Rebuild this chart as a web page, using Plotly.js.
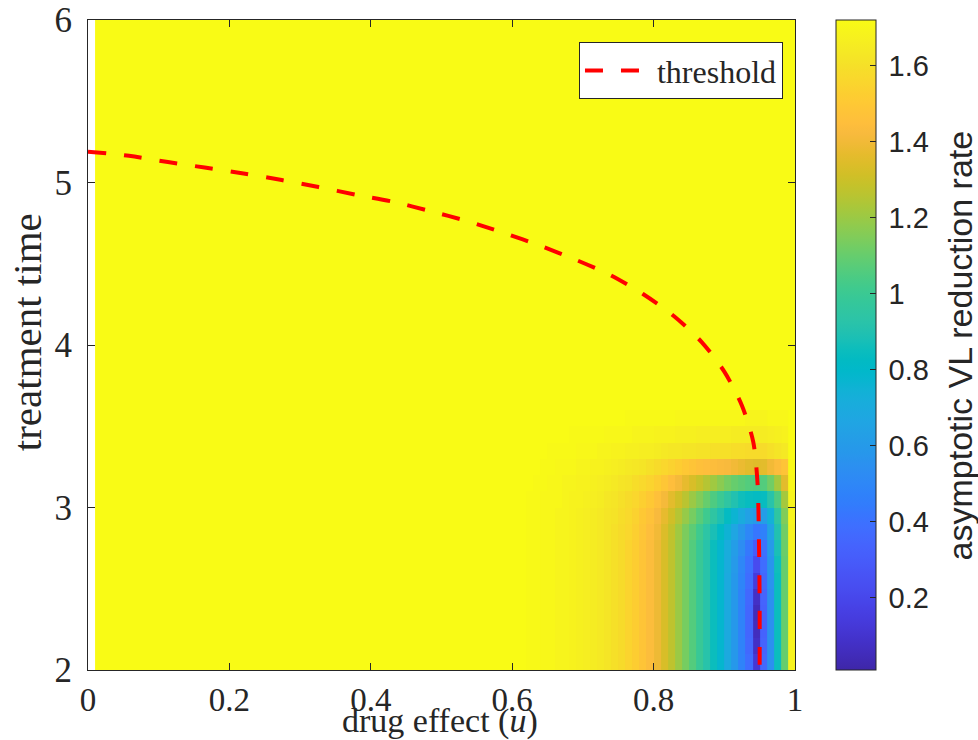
<!DOCTYPE html>
<html>
<head>
<meta charset="utf-8">
<script src="https://cdn.plot.ly/plotly-3.0.1.min.js"></script>
<style>html,body{margin:0;padding:0;background:#fff;}#chart{width:978px;height:740px;}</style>
</head>
<body>
<div id="chart"></div>
<script>
// cell edges of the drug-effect grid (u) and treatment-time grid (T)
const uEdges = [0.01,0.60,0.61,0.62,0.63,0.64,0.65,0.66,0.67,0.68,0.69,0.70,0.71,0.72,0.73,0.74,0.75,0.76,0.77,0.78,0.79,0.80,0.81,0.82,0.83,0.84,0.85,0.86,0.87,0.88,0.89,0.90,0.91,0.92,0.93,0.94,0.95,0.96,0.97,0.98,0.99,1.00];
const tEdges = [2.0,2.1,2.2,2.3,2.4,2.5,2.6,2.7,2.8,2.9,3.0,3.1,3.2,3.3,3.4,3.5,3.6,6.0];

// asymptotic VL reduction rate, one row per treatment-time band (bottom to top)
const rate_T20 = [1.72,1.72,1.72,1.71,1.71,1.70,1.70,1.69,1.69,1.68,1.67,1.66,1.65,1.64,1.62,1.60,1.58,1.55,1.52,1.48,1.44,1.39,1.33,1.27,1.20,1.13,1.06,0.99,0.92,0.85,0.78,0.69,0.59,0.48,0.38,0.12,0.36,0.55,0.85,1.10,1.68];
const rate_T21 = [1.72,1.72,1.72,1.71,1.71,1.70,1.70,1.69,1.69,1.68,1.67,1.66,1.65,1.64,1.62,1.60,1.58,1.55,1.52,1.48,1.44,1.39,1.33,1.27,1.20,1.13,1.06,0.99,0.92,0.85,0.78,0.69,0.59,0.48,0.36,0.08,0.34,0.55,0.85,1.10,1.68];
const rate_T22 = [1.72,1.72,1.72,1.71,1.71,1.70,1.70,1.69,1.69,1.68,1.67,1.66,1.65,1.64,1.62,1.60,1.58,1.55,1.52,1.48,1.44,1.39,1.33,1.27,1.20,1.13,1.06,0.99,0.92,0.85,0.78,0.69,0.59,0.48,0.35,0.06,0.33,0.55,0.85,1.10,1.68];
const rate_T23 = [1.72,1.72,1.72,1.71,1.71,1.70,1.70,1.69,1.69,1.68,1.67,1.66,1.65,1.64,1.62,1.60,1.58,1.55,1.52,1.48,1.44,1.39,1.33,1.27,1.20,1.13,1.06,0.99,0.92,0.85,0.78,0.69,0.59,0.48,0.35,0.05,0.33,0.55,0.85,1.10,1.68];
const rate_T24 = [1.72,1.72,1.72,1.71,1.71,1.70,1.70,1.69,1.69,1.68,1.67,1.66,1.65,1.64,1.62,1.60,1.58,1.55,1.52,1.48,1.44,1.39,1.33,1.27,1.20,1.13,1.06,0.99,0.92,0.85,0.78,0.69,0.59,0.48,0.36,0.08,0.34,0.55,0.85,1.10,1.68];
const rate_T25 = [1.72,1.72,1.72,1.71,1.71,1.70,1.70,1.69,1.69,1.68,1.67,1.66,1.65,1.64,1.62,1.60,1.58,1.55,1.52,1.48,1.44,1.39,1.33,1.27,1.20,1.13,1.06,0.99,0.92,0.85,0.78,0.69,0.59,0.49,0.38,0.14,0.36,0.56,0.85,1.10,1.68];
const rate_T26 = [1.72,1.72,1.72,1.71,1.71,1.70,1.70,1.69,1.69,1.68,1.67,1.66,1.65,1.64,1.62,1.60,1.58,1.55,1.52,1.48,1.44,1.39,1.33,1.27,1.20,1.13,1.06,0.99,0.92,0.85,0.78,0.70,0.60,0.50,0.40,0.22,0.38,0.57,0.86,1.10,1.68];
const rate_T27 = [1.72,1.72,1.72,1.71,1.71,1.70,1.70,1.69,1.69,1.68,1.67,1.66,1.65,1.64,1.62,1.60,1.58,1.55,1.52,1.48,1.44,1.39,1.33,1.27,1.20,1.13,1.06,0.99,0.92,0.85,0.78,0.71,0.62,0.53,0.43,0.30,0.40,0.60,0.88,1.11,1.68];
const rate_T28 = [1.72,1.72,1.72,1.71,1.71,1.70,1.70,1.69,1.69,1.68,1.67,1.66,1.65,1.64,1.62,1.60,1.58,1.56,1.53,1.49,1.45,1.40,1.34,1.28,1.21,1.14,1.08,1.01,0.94,0.88,0.82,0.75,0.67,0.58,0.50,0.42,0.47,0.65,0.90,1.12,1.68];
const rate_T29 = [1.72,1.72,1.72,1.71,1.71,1.70,1.70,1.69,1.69,1.68,1.67,1.66,1.65,1.64,1.62,1.61,1.59,1.57,1.54,1.50,1.47,1.42,1.37,1.31,1.25,1.19,1.13,1.07,1.01,0.95,0.89,0.83,0.76,0.70,0.64,0.60,0.62,0.74,0.95,1.15,1.69];
const rate_T30 = [1.72,1.72,1.72,1.71,1.71,1.70,1.70,1.70,1.69,1.68,1.68,1.67,1.66,1.65,1.63,1.62,1.60,1.58,1.56,1.53,1.50,1.46,1.41,1.36,1.31,1.26,1.20,1.15,1.10,1.05,1.00,0.95,0.90,0.86,0.84,0.83,0.84,0.92,1.05,1.22,1.69];
const rate_T31 = [1.72,1.72,1.72,1.72,1.71,1.71,1.70,1.70,1.69,1.69,1.68,1.68,1.67,1.66,1.65,1.64,1.62,1.61,1.59,1.57,1.55,1.52,1.49,1.45,1.41,1.37,1.33,1.29,1.25,1.21,1.17,1.13,1.10,1.08,1.06,1.05,1.06,1.12,1.22,1.36,1.70];
const rate_T32 = [1.72,1.72,1.72,1.72,1.72,1.71,1.71,1.70,1.70,1.70,1.69,1.69,1.68,1.68,1.67,1.66,1.65,1.64,1.63,1.62,1.60,1.58,1.56,1.54,1.52,1.50,1.48,1.46,1.45,1.44,1.43,1.42,1.40,1.38,1.36,1.35,1.36,1.40,1.44,1.48,1.71];
const rate_T33 = [1.72,1.72,1.72,1.72,1.72,1.72,1.71,1.71,1.71,1.71,1.70,1.70,1.70,1.69,1.69,1.68,1.68,1.67,1.67,1.66,1.66,1.65,1.64,1.63,1.63,1.62,1.62,1.61,1.61,1.60,1.60,1.60,1.59,1.59,1.58,1.58,1.58,1.60,1.62,1.64,1.72];
const rate_T34 = [1.72,1.72,1.72,1.72,1.72,1.72,1.72,1.72,1.72,1.71,1.71,1.71,1.71,1.71,1.70,1.70,1.70,1.70,1.69,1.69,1.69,1.68,1.68,1.68,1.67,1.67,1.67,1.66,1.66,1.66,1.66,1.66,1.65,1.65,1.65,1.65,1.65,1.66,1.67,1.68,1.72];
const rate_T35 = [1.72,1.72,1.72,1.72,1.72,1.72,1.72,1.72,1.72,1.72,1.72,1.72,1.72,1.72,1.72,1.72,1.72,1.71,1.71,1.71,1.71,1.71,1.71,1.71,1.70,1.70,1.70,1.70,1.70,1.70,1.70,1.70,1.70,1.70,1.69,1.69,1.69,1.70,1.70,1.70,1.72];
const rate_T36 = [1.72,1.72,1.72,1.72,1.72,1.72,1.72,1.72,1.72,1.72,1.72,1.72,1.72,1.72,1.72,1.72,1.72,1.72,1.72,1.72,1.72,1.72,1.72,1.72,1.72,1.72,1.72,1.72,1.72,1.72,1.72,1.72,1.72,1.72,1.72,1.72,1.72,1.72,1.72,1.72,1.72];

// threshold curve
const thrU = [0,0.058,0.113,0.165,0.220,0.274,0.326,0.379,0.433,0.483,0.536,0.588,0.640,0.689,0.739,0.785,0.829,0.868,0.900,0.925,0.941,0.947,0.949,0.95,0.95];
const thrT = [5.19,5.164,5.126,5.092,5.056,5.015,4.972,4.925,4.88,4.825,4.763,4.69,4.61,4.526,4.43,4.314,4.177,4.018,3.836,3.626,3.402,3.15,2.80,2.40,2.00];

// ticks
const cbTicks = [0.2,0.4,0.6,0.8,1,1.2,1.4,1.6];
const xTicks = [0,0.2,0.4,0.6,0.8,1];
const yTicks = [2,3,4,5,6];

const zRows = [rate_T20,rate_T21,rate_T22,rate_T23,rate_T24,rate_T25,rate_T26,rate_T27,rate_T28,rate_T29,rate_T30,rate_T31,rate_T32,rate_T33,rate_T34,rate_T35,rate_T36];

const parula = [[0.2422,0.1504,0.6603],[0.2504,0.1650,0.7076],[0.2578,0.1818,0.7511],[0.2647,0.1978,0.7952],[0.2706,0.2147,0.8364],[0.2751,0.2342,0.8710],[0.2783,0.2559,0.8991],[0.2803,0.2782,0.9221],[0.2813,0.3006,0.9414],[0.2810,0.3228,0.9579],[0.2795,0.3447,0.9717],[0.2760,0.3667,0.9829],[0.2699,0.3892,0.9906],[0.2602,0.4123,0.9952],[0.2440,0.4358,0.9988],[0.2206,0.4603,0.9973],[0.1963,0.4847,0.9892],[0.1834,0.5074,0.9798],[0.1786,0.5289,0.9682],[0.1764,0.5499,0.9520],[0.1687,0.5703,0.9359],[0.1540,0.5902,0.9218],[0.1460,0.6091,0.9079],[0.1380,0.6276,0.8973],[0.1248,0.6459,0.8883],[0.1113,0.6635,0.8763],[0.0952,0.6798,0.8598],[0.0689,0.6948,0.8394],[0.0297,0.7082,0.8163],[0.0036,0.7203,0.7917],[0.0067,0.7312,0.7660],[0.0433,0.7411,0.7394],[0.0964,0.7500,0.7120],[0.1408,0.7584,0.6842],[0.1717,0.7670,0.6554],[0.1938,0.7758,0.6251],[0.2161,0.7843,0.5923],[0.2470,0.7918,0.5567],[0.2906,0.7973,0.5188],[0.3406,0.8008,0.4789],[0.3909,0.8029,0.4354],[0.4456,0.8024,0.3909],[0.5044,0.7993,0.3480],[0.5616,0.7942,0.3045],[0.6174,0.7876,0.2612],[0.6720,0.7793,0.2227],[0.7242,0.7698,0.1910],[0.7738,0.7598,0.1646],[0.8203,0.7498,0.1535],[0.8634,0.7406,0.1596],[0.9035,0.7330,0.1774],[0.9393,0.7288,0.2100],[0.9728,0.7298,0.2394],[0.9956,0.7434,0.2371],[0.9970,0.7659,0.2199],[0.9952,0.7893,0.2028],[0.9892,0.8136,0.1885],[0.9786,0.8386,0.1766],[0.9676,0.8639,0.1643],[0.9610,0.8890,0.1537],[0.9597,0.9135,0.1423],[0.9628,0.9373,0.1265],[0.9691,0.9606,0.1064],[0.9769,0.9839,0.0805]];
const colorscale = parula.map((c, i) => [i / (parula.length - 1), 'rgb(' + c.map(v => Math.round(v * 255)).join(',') + ')']);

const axisColor = '#262626';
const serif = 'Liberation Serif, DejaVu Serif, serif';
const sans = 'Liberation Sans, Arial, sans-serif';

const traces = [
  {
    type: 'heatmap',
    x: uEdges, y: tEdges, z: zRows,
    colorscale: colorscale, zmin: 0.01, zmax: 1.72, zsmooth: false,
    showlegend: false, hoverinfo: 'skip',
    colorbar: {
      x: 1.058, xanchor: 'left', xpad: 0, xref: 'paper',
      y: 0, yanchor: 'bottom', ypad: 0, len: 1, lenmode: 'fraction',
      thickness: 40, thicknessmode: 'pixels',
      outlinewidth: 1, outlinecolor: axisColor,
      ticks: 'inside', ticklen: 6, tickcolor: axisColor, tickwidth: 1,
      tickvals: cbTicks, ticktext: cbTicks.map(v => '\u2009' + v),
      tickfont: {family: sans, size: 29, color: axisColor}
    }
  },
  {
    type: 'scatter', mode: 'lines', name: 'threshold',
    x: thrU, y: thrT,
    line: {color: '#ff0000', width: 4, dash: '18px,18px', shape: 'spline', smoothing: 0.8},
    hoverinfo: 'skip'
  }
];

const layout = {
  width: 978, height: 740,
  margin: {l: 88, r: 183, t: 20, b: 70, pad: 0},
  paper_bgcolor: '#ffffff', plot_bgcolor: '#ffffff',
  xaxis: {
    range: [0, 1], tickvals: xTicks, ticktext: xTicks.map(String),
    ticks: 'inside', ticklen: 7, tickcolor: axisColor, tickwidth: 1,
    showline: true, linecolor: axisColor, linewidth: 1, mirror: 'ticks',
    showgrid: false, zeroline: false, ticklabelstandoff: 0,
    tickfont: {family: serif, size: 33, color: axisColor}
  },
  yaxis: {
    range: [2, 6], tickvals: yTicks, ticktext: yTicks.map(String),
    ticks: 'inside', ticklen: 7, tickcolor: axisColor, tickwidth: 1,
    showline: true, linecolor: axisColor, linewidth: 1, mirror: 'ticks',
    showgrid: false, zeroline: false, ticklabelstandoff: 8,
    tickfont: {family: serif, size: 35, color: axisColor}
  },
  annotations: [
    {text: 'drug effect (<i>u</i>)', xref: 'paper', yref: 'paper', x: 0.498, y: -0.0785, xanchor: 'center', yanchor: 'middle',
     showarrow: false, font: {family: serif, size: 34, color: axisColor}},
    {text: 'treatment time', xref: 'paper', yref: 'paper', x: -0.086, y: 0.52, xanchor: 'center', yanchor: 'middle',
     textangle: -90, showarrow: false, font: {family: serif, size: 41, color: axisColor}},
    {text: 'asymptotic VL reduction rate', xref: 'paper', yref: 'paper', x: 1.234, y: 0.5, xanchor: 'center', yanchor: 'middle',
     textangle: -90, showarrow: false, font: {family: sans, size: 34, color: axisColor}}
  ],
  legend: {
    x: 0.983, xanchor: 'right', y: 0.966, yanchor: 'top',
    bgcolor: '#ffffff', bordercolor: axisColor, borderwidth: 1, itemwidth: 67,
    font: {family: serif, size: 32, color: axisColor}
  },
  showlegend: true
};

Plotly.newPlot('chart', traces, layout, {displayModeBar: false, staticPlot: true});
</script>
</body>
</html>
